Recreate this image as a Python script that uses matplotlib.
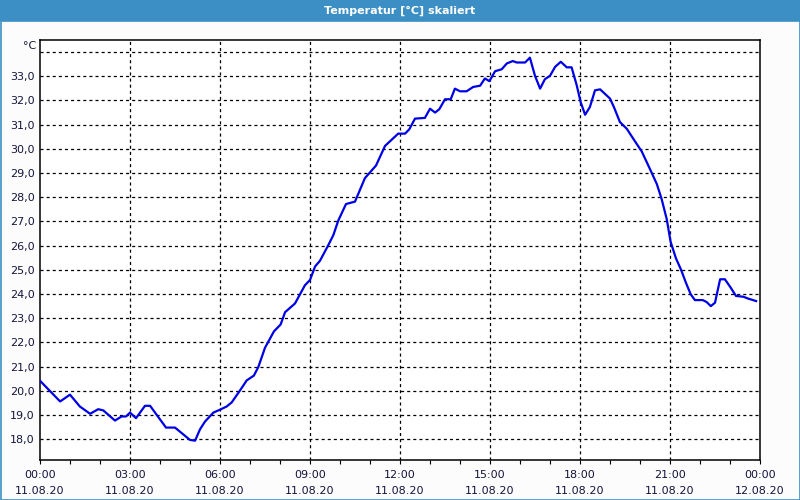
import matplotlib
matplotlib.use('Agg')
import matplotlib.pyplot as plt
from matplotlib.patches import Rectangle

# hours since 11.08.20 00:00 and temperature in degC
hours = [0.02, 0.67, 1.0, 1.33, 1.67, 1.94, 2.11, 2.5, 2.72, 2.87, 3.0, 3.2, 3.5, 3.67,
         4.2, 4.5, 5.0, 5.17, 5.33, 5.5, 5.78, 6.0, 6.22, 6.39, 6.67, 6.89, 7.13, 7.28,
         7.5, 7.8, 8.02, 8.17, 8.5, 8.83, 9.0, 9.17, 9.33, 9.61, 9.78, 9.94, 10.2, 10.5,
         10.83, 11.2, 11.5, 11.94, 12.17, 12.31, 12.5, 12.83, 13.0, 13.17, 13.31, 13.5,
         13.69, 13.83, 14.0, 14.22, 14.44, 14.67, 14.83, 14.98, 15.17, 15.39, 15.56,
         15.76, 15.89, 16.17, 16.33, 16.5, 16.67, 16.83, 17.0, 17.17, 17.36, 17.56, 17.72,
         17.89, 18.02, 18.17, 18.33, 18.5, 18.67, 19.0, 19.13, 19.33, 19.56, 19.78, 20.06,
         20.33, 20.56, 20.72, 20.89, 21.02, 21.2, 21.36, 21.53, 21.69, 21.83, 22.09, 22.22,
         22.36, 22.5, 22.67, 22.83, 23.02, 23.2, 23.44, 23.61, 23.87]
temps = [20.39, 19.56, 19.84, 19.35, 19.05, 19.24, 19.19, 18.77, 18.94, 18.94, 19.10, 18.87,
         19.38, 19.38, 18.48, 18.48, 17.97, 17.94, 18.4, 18.73, 19.10, 19.22, 19.35, 19.52,
         20.02, 20.43, 20.63, 20.99, 21.78, 22.46, 22.74, 23.25, 23.61, 24.36, 24.58, 25.14,
         25.37, 26.02, 26.44, 27.03, 27.72, 27.82, 28.79, 29.31, 30.12, 30.63, 30.63, 30.81,
         31.25, 31.28, 31.66, 31.50, 31.64, 32.05, 32.05, 32.49, 32.38, 32.38, 32.56, 32.61,
         32.91, 32.80, 33.21, 33.29, 33.53, 33.63, 33.57, 33.57, 33.77, 33.02, 32.49, 32.88,
         33.02, 33.39, 33.60, 33.37, 33.37, 32.63, 31.94, 31.41, 31.73, 32.42, 32.46, 32.08,
         31.73, 31.11, 30.83, 30.41, 29.89, 29.17, 28.55, 27.93, 27.10, 26.16, 25.47, 25.03,
         24.47, 23.99, 23.75, 23.75, 23.67, 23.50, 23.64, 24.61, 24.61, 24.27, 23.92, 23.89,
         23.81, 23.71]

x_major = [0, 3, 6, 9, 12, 15, 18, 21, 24]
x_labels = ['00:00\n11.08.20', '03:00\n11.08.20', '06:00\n11.08.20', '09:00\n11.08.20',
            '12:00\n11.08.20', '15:00\n11.08.20', '18:00\n11.08.20', '21:00\n11.08.20',
            '00:00\n12.08.20']
y_ticks = list(range(18, 35))
y_labels = ['%d,0' % v for v in range(18, 34)] + ['']

bar_blue = '#3c8fc4'
text_col = '#14143c'
plt.rcParams['font.family'] = 'DejaVu Sans'
plt.rcParams['lines.scale_dashes'] = False

fig = plt.figure(figsize=(8, 5), dpi=100, facecolor='#fbfcfb')
# title bar and frame
fig.patches.append(Rectangle((0, 1 - 21 / 500), 1, 21 / 500, transform=fig.transFigure,
                             facecolor=bar_blue, edgecolor='none', zorder=0))
fig.patches.append(Rectangle((0.5 / 800, 0.5 / 500), 1 - 1 / 800, 1 - 21 / 500,
                             transform=fig.transFigure, facecolor='none',
                             edgecolor=bar_blue, linewidth=1.2, zorder=0))
fig.text(0.5, 1 - 10.5 / 500, 'Temperatur [°C] skaliert', color='white', fontsize=8,
         fontweight='bold', ha='center', va='center')

ax = fig.add_axes([40 / 800, 40 / 500, 720 / 800, 420 / 500])
ax.set_facecolor('white')
ax.plot(hours, temps, color='#0000e6', linewidth=1.6, zorder=3)

ax.set_xlim(0, 24)
ax.set_ylim(17.14, 34.5)
ax.set_xticks(x_major)
ax.set_xticklabels(x_labels, fontsize=8, color=text_col, linespacing=1.75)
ax.set_xticks(range(0, 25), minor=True)
ax.set_yticks(y_ticks)
ax.set_yticklabels(y_labels, fontsize=8, color=text_col)
ax.tick_params(axis='y', length=0, pad=4)
ax.tick_params(axis='x', which='both', length=3, width=0.8, direction='out', pad=4)

for v in y_ticks:
    ax.axhline(v, color='black', linewidth=0.9, dashes=(2.2, 2.2), zorder=1)
for v in x_major[1:-1]:
    ax.axvline(v, color='black', linewidth=0.9, dashes=(2.2, 2.2), zorder=1)

for s in ax.spines.values():
    s.set_color('black')
    s.set_linewidth(1.1)

fig.text(36 / 800, 1 - 46 / 500, '°C', fontsize=8, color=text_col, ha='right', va='center')

fig.savefig('out.png', dpi=100, facecolor=fig.get_facecolor())
